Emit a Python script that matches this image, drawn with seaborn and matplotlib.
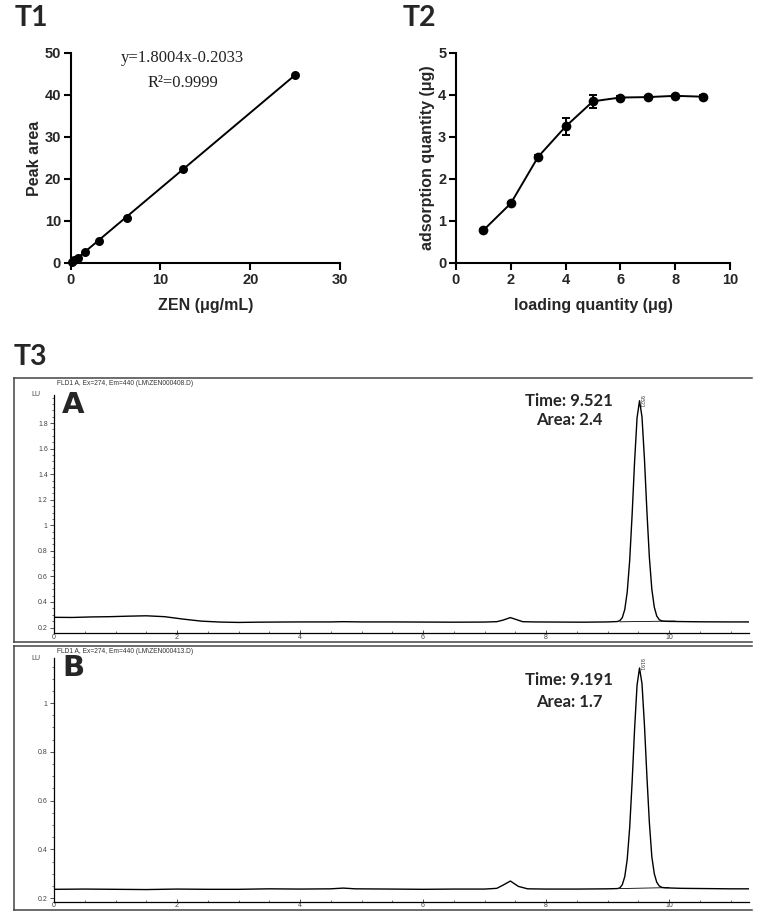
import matplotlib
matplotlib.use("Agg")
import matplotlib.pyplot as plt
from matplotlib.ticker import MultipleLocator
import seaborn as sns

W, H = 761, 921

# T1: ZEN standard curve
zen_conc = [0.195, 0.39, 0.78, 1.5625, 3.125, 6.25, 12.5, 25]
peak_area = [0.3, 0.6, 1.3, 2.6, 5.3, 10.7, 22.4, 44.8]

# T2: adsorption vs loading
loading = [1, 2, 3, 4, 5, 6, 7, 8, 9]
adsorbed = [0.78, 1.42, 2.53, 3.25, 3.85, 3.94, 3.95, 3.98, 3.96]
adsorbed_err = [0.03, 0.04, 0.04, 0.21, 0.15, 0.03, 0.03, 0.03, 0.03]

# T3: chromatograms (min, LU)
time_a = [0.0, 0.3, 0.6, 0.9, 1.2, 1.5, 1.8, 2.1, 2.4, 2.7,
          3.0, 3.3, 3.6, 4.0, 4.5, 4.7, 5.0, 5.5, 6.0, 6.5,
          7.0, 7.2, 7.3, 7.42, 7.52, 7.62, 7.8, 8.2, 8.6, 9.0,
          9.16, 9.20, 9.24, 9.28, 9.32, 9.36, 9.40, 9.44, 9.48, 9.52,
          9.56, 9.60, 9.64, 9.68, 9.72, 9.76, 9.80, 9.84, 9.88, 9.94,
          10.0, 10.5, 11.0, 11.3]
signal_a = [0.280, 0.279, 0.283, 0.285, 0.289, 0.292, 0.285, 0.266, 0.250, 0.243,
            0.240, 0.242, 0.243, 0.244, 0.244, 0.246, 0.244, 0.244, 0.243, 0.242,
            0.243, 0.246, 0.258, 0.278, 0.262, 0.246, 0.244, 0.243, 0.242, 0.244,
            0.247, 0.254, 0.278, 0.341, 0.478, 0.725, 1.087, 1.501, 1.842, 1.975,
            1.85, 1.52, 1.11, 0.75, 0.50, 0.36, 0.29, 0.262, 0.252, 0.249,
            0.248, 0.245, 0.244, 0.244]
time_b = [0.0, 0.5, 1.0, 1.5, 2.0, 2.5, 3.0, 3.5, 4.0, 4.5,
          4.7, 4.9, 5.5, 6.0, 6.5, 7.0, 7.2, 7.3, 7.42, 7.55,
          7.7, 8.0, 8.5, 9.0,
          9.16, 9.20, 9.24, 9.28, 9.32, 9.36, 9.40, 9.44, 9.48, 9.52,
          9.56, 9.60, 9.64, 9.68, 9.72, 9.76, 9.80, 9.84, 9.88, 9.94,
          10.2, 10.6, 11.0, 11.3]
signal_b = [0.236, 0.237, 0.236, 0.235, 0.237, 0.236, 0.236, 0.238, 0.237, 0.238,
            0.241, 0.238, 0.237, 0.236, 0.237, 0.237, 0.240, 0.253, 0.270, 0.248,
            0.238, 0.237, 0.237, 0.238,
            0.239, 0.242, 0.255, 0.288, 0.359, 0.489, 0.678, 0.895, 1.074, 1.144,
            1.08, 0.91, 0.70, 0.51, 0.37, 0.30, 0.265, 0.25, 0.244, 0.242,
            0.240, 0.239, 0.238, 0.238]
# integration baselines under the main peaks
integ_a_time = [9.2, 10.1]
integ_a_signal = [0.245, 0.251]
integ_b_time = [9.2, 10.0]
integ_b_signal = [0.239, 0.243]

chrom_a_yticks = [0.2, 0.4, 0.6, 0.8, 1.0, 1.2, 1.4, 1.6, 1.8]
chrom_a_ylabels = ["0.2", "0.4", "0.6", "0.8", "1", "1.2", "1.4", "1.6", "1.8"]
chrom_b_yticks = [0.2, 0.4, 0.6, 0.8, 1.0]
chrom_b_ylabels = ["0.2", "0.4", "0.6", "0.8", "1"]
chrom_xticks = [0, 2, 4, 6, 8, 10]


def rect(x0, y0, x1, y1):
    return [x0 / W, 1 - y1 / H, (x1 - x0) / W, (y1 - y0) / H]


def px(x, y):
    return x / W, 1 - y / H


sns.set_theme(style="ticks")
plt.rcParams["font.family"] = ["Liberation Sans", "DejaVu Sans"]

fig = plt.figure(figsize=(W / 100, H / 100), dpi=100)
fig.patch.set_facecolor("white")

title_font = dict(family=["Lato", "DejaVu Sans"], weight="bold", fontsize=20.5)
label_font = dict(weight="bold", fontsize=11.5)


def style_prism(ax):
    sns.despine(ax=ax)
    for side in ["left", "bottom"]:
        ax.spines[side].set_linewidth(1.5)
        ax.spines[side].set_color("black")
    ax.tick_params(width=1.5, length=5, labelsize=10.5, color="black", pad=2)
    for lab in ax.get_xticklabels() + ax.get_yticklabels():
        lab.set_fontweight("bold")


# ---- T1
ax1 = fig.add_axes(rect(70.7, 53, 340, 263))
sns.regplot(x=zen_conc, y=peak_area, ci=None, truncate=True, color="black",
            scatter_kws=dict(s=42, linewidths=0, clip_on=False, zorder=3, alpha=1),
            line_kws=dict(lw=1.4), ax=ax1)
ax1.set_xlim(0, 30)
ax1.set_ylim(0, 50)
ax1.set_xticks([0, 10, 20, 30])
ax1.set_yticks([0, 10, 20, 30, 40, 50])
ax1.set_xlabel("ZEN (μg/mL)", labelpad=8, **label_font)
ax1.set_ylabel("Peak area", labelpad=1.5, **label_font)
style_prism(ax1)
ax1.text(0.415, 0.975, "y=1.8004x-0.2033", transform=ax1.transAxes, ha="center", va="center",
         family="Liberation Serif", fontsize=12, color="#222")
ax1.text(0.418, 0.855, "R²=0.9999", transform=ax1.transAxes, ha="center", va="center",
         family="Liberation Serif", fontsize=12, color="#222")
fig.text(*px(15, 18), "T1", ha="left", va="center", **title_font)

# ---- T2
ax2 = fig.add_axes(rect(456, 53, 730, 263))
sns.lineplot(x=loading, y=adsorbed, color="black", lw=1.4, marker="o",
             markersize=7, markeredgewidth=0, ax=ax2)
ax2.errorbar(loading, adsorbed, yerr=adsorbed_err, fmt="none", ecolor="black",
             elinewidth=1.4, capsize=3.2, capthick=1.4)
ax2.set_xlim(0, 10)
ax2.set_ylim(0, 5)
ax2.set_xticks([0, 2, 4, 6, 8, 10])
ax2.set_yticks([0, 1, 2, 3, 4, 5])
ax2.set_xlabel("loading quantity (μg)", labelpad=8, **label_font)
ax2.set_ylabel("adsorption quantity (μg)", labelpad=2.5, **label_font)
style_prism(ax2)
fig.text(*px(403, 18), "T2", ha="left", va="center", **title_font)

# ---- T3
fig.text(*px(14, 357), "T3", ha="left", va="center", **title_font)


def chrom_panel(frame_box, axes_box, t, s, it, isig, ylim, yticks, ylabels,
                letter, header, peak_label, ann_time, ann_area, ann_y):
    frame = fig.add_axes(rect(*frame_box))
    frame.set_facecolor("none")
    frame.set_xticks([])
    frame.set_yticks([])
    frame.spines["right"].set_visible(False)
    for side in ["left", "top", "bottom"]:
        frame.spines[side].set_color("#444")
        frame.spines[side].set_linewidth(1.1)

    ax = fig.add_axes(rect(*axes_box))
    ax.set_facecolor("none")
    sns.lineplot(x=t, y=s, color="black", lw=1.0, sort=False, estimator=None, ax=ax)
    sns.lineplot(x=it, y=isig, color="black", lw=0.6, sort=False, estimator=None, ax=ax)
    ax.set_xlim(0, 11.3)
    ax.set_ylim(*ylim)
    sns.despine(ax=ax)
    for side in ["left", "bottom"]:
        ax.spines[side].set_linewidth(0.9)
        ax.spines[side].set_color("black")
    ax.set_yticks(yticks)
    ax.set_yticklabels(ylabels)
    ax.yaxis.set_minor_locator(MultipleLocator(0.05))
    ax.set_xticks(chrom_xticks)
    ax.set_xticklabels([str(v) for v in chrom_xticks])
    ax.xaxis.set_minor_locator(MultipleLocator(0.5))
    ax.tick_params(axis="y", which="major", length=3, width=0.6, labelsize=5,
                   labelcolor="#444", color="#333", pad=1.5)
    ax.tick_params(axis="y", which="minor", length=1.6, width=0.5, color="#333")
    ax.tick_params(axis="x", which="major", direction="in", length=2.5, width=0.6,
                   labelsize=5, labelcolor="#444", color="#333", pad=0.5)
    ax.tick_params(axis="x", which="minor", direction="in", length=1.6, width=0.5, color="#333")
    ax.set_xlabel("")
    ax.set_ylabel("")

    fy0 = frame_box[1]
    top = axes_box[1]
    fig.text(*px(57, fy0 + 5.5), header, fontsize=4.8, color="#333", ha="left", va="center")
    fig.text(*px(36, top), "LU", fontsize=5, color="#444", ha="center", va="center")
    fig.text(*px(62, top + 10), letter, fontsize=21, weight="heavy",
             family=["DejaVu Sans"], ha="left", va="center")
    fig.text(*px(641, top + 6), peak_label, fontsize=3.6, rotation=270, color="#333",
             ha="center", va="center")
    fig.text(*px(569, ann_y[0]), ann_time, ha="center", va="center",
             family=["Lato", "DejaVu Sans"], weight="bold", fontsize=12)
    fig.text(*px(569, ann_y[1]), ann_area, ha="center", va="center",
             family=["Lato", "DejaVu Sans"], weight="bold", fontsize=12)
    return ax


chrom_panel((14, 378, 752, 642), (54, 395, 749, 633.3), time_a, signal_a,
            integ_a_time, integ_a_signal, (0.155, 2.02), chrom_a_yticks, chrom_a_ylabels,
            "A", "FLD1 A, Ex=274, Em=440 (LM\\ZEN000408.D)", "9.521",
            "Time: 9.521", "Area: 2.4", (401, 420))
chrom_panel((14, 646, 752, 910), (54, 658, 749, 901.5), time_b, signal_b,
            integ_b_time, integ_b_signal, (0.186, 1.185), chrom_b_yticks, chrom_b_ylabels,
            "B", "FLD1 A, Ex=274, Em=440 (LM\\ZEN000413.D)", "9.191",
            "Time: 9.191", "Area: 1.7", (680, 702))

fig.savefig("out.png", dpi=100)
